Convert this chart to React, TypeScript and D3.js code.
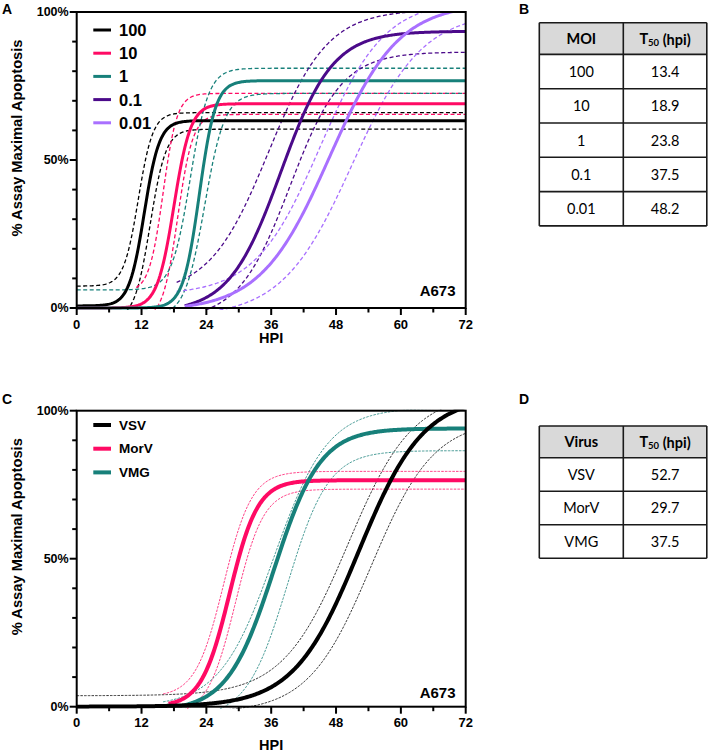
import React from "react";
import * as d3 from "d3";

// ---------- Panel A data (MOI series) ----------
const moiLabels = ["100", "10", "1", "0.1", "0.01"];
const moiColors = ["#000000", "#ff0a64", "#17807a", "#4b0a8a", "#a970ff"];
const moiT50 = [13.4, 18.9, 23.8, 37.5, 48.2];
// fitted sigmoid parameters
const moiBottom = [0.7, 0, 0, -1.5, -1];
const moiTop = [63.3, 69, 76.8, 93.5, 103];
const moiMid = [12.5, 18.0, 22.7, 37.8, 46.8];
const moiSlope = [1.4, 1.55, 1.5, 4.8, 6.4];
const moiFrom = [0, 0, 0, 20, 20];
// confidence band curves: [bottom, top, mid, slope, fromX]
const moiUpper = [
  [7.4, 66, 11.4, 1.35, 0],
  [5.5, 72.5, 16, 1.3, 11],
  [6.1, 81, 21, 1.7, 0],
  [4.5, 100.8, 35.5, 5.5, 18.5],
  [4.4, 104, 45, 6, 18.5],
];
const moiLower = [
  [-4, 60.4, 13.6, 1.45, 0],
  [-4, 65.4, 18.7, 1.4, 0],
  [-3, 72.5, 23.7, 1.85, 0],
  [-4, 86.5, 39.5, 4.8, 0],
  [-3, 100, 51, 6.5, 0],
];

// ---------- Panel C data (virus series) ----------
const virusLabels = ["VSV", "MorV", "VMG"];
const virusColors = ["#000000", "#ff0a64", "#17807a"];
const virusT50 = [52.7, 29.7, 37.5];
const virusBottom = [0, 0, -1.5];
const virusTop = [105, 76.5, 94];
const virusMid = [52.2, 28.3, 36.5];
const virusSlope = [6, 2.6, 4.3];
const virusFrom = [0, 17, 20];
const virusUpper = [
  [3.7, 106, 50.2, 6, 0],
  [3.3, 79.5, 27.2, 2.6, 16],
  [0, 101, 36.5, 5, 16],
];
const virusLower = [
  [-2, 97, 54.5, 5.8, 0],
  [-3, 73.5, 29.4, 2.6, 0],
  [-4, 86.5, 39, 3.8, 0],
];
const virusDrawOrder = [1, 2, 0];

// ---------- Tables ----------
const tableBHeader = ["MOI", "T50 (hpi)"];
const tableBRows = moiLabels.map((m, i) => [m, moiT50[i].toFixed(1)]);
const tableDHeader = ["Virus", "T50 (hpi)"];
const tableDRows = virusLabels.map((v, i) => [v, virusT50[i].toFixed(1)]);

const xTicksMajor = [0, 12, 24, 36, 48, 60, 72];
const xTicksMinor = [6, 18, 30, 42, 54, 66];
const yTicksMajor = [0, 50, 100];
const yTicksMinor = [10, 20, 30, 40, 60, 70, 80, 90];

const FONT = "'Liberation Sans', Arial, Helvetica, sans-serif";
const TFONT = "Lato, 'Open Sans', sans-serif";

const boltz = (b: number, t: number, x50: number, s: number) => (x: number) =>
  b + (t - b) / (1 + Math.exp((x50 - x) / s));

type Curve = { color: string; fn: (x: number) => number; from: number; width: number; dash?: string };

function Plot({
  id,
  top,
  curves,
  legend,
  legendFont,
  legendStep,
  legendWidth,
  legendTop,
  letter,
  letterY,
  hpiY,
  cellY,
}: {
  id: string;
  top: number;
  curves: Curve[];
  legend: { label: string; color: string }[];
  legendFont: number;
  legendStep: number;
  legendWidth: number;
  legendTop: number;
  letter: string;
  letterY: number;
  hpiY: number;
  cellY: number;
}) {
  const left = 76.7;
  const right = 465.7;
  const bottom = top + 296;
  const x = d3.scaleLinear().domain([0, 72]).range([left, right]);
  const y = d3.scaleLinear().domain([0, 100]).range([bottom, top]);
  const line = d3
    .line<number>()
    .x((d) => x(d))
    .curve(d3.curveLinear);
  return (
    <g>
      <defs>
        <clipPath id={"clip" + id}>
          <rect x={left} y={top - 1} width={right - left} height={bottom - top + 3} />
        </clipPath>
      </defs>
      <text x={2} y={letterY} fontFamily={FONT} fontWeight="bold" fontSize={14}>
        {letter}
      </text>
      <g clipPath={`url(#clip${id})`}>
        {curves.map((c, i) => {
          const xs = d3.range(c.from, 72.0001, 0.2);
          const path = line.y((d) => y(c.fn(d)))(xs) || "";
          return (
            <path
              key={i}
              d={path}
              fill="none"
              stroke={c.color}
              strokeWidth={c.width}
              strokeDasharray={c.dash}
            />
          );
        })}
      </g>
      <rect x={left} y={top} width={right - left} height={bottom - top} fill="none" stroke="#000" strokeWidth={2} />
      {xTicksMajor.map((t) => (
        <g key={"xm" + t}>
          <line x1={x(t)} x2={x(t)} y1={bottom} y2={bottom + 7} stroke="#000" strokeWidth={2} />
          <text
            x={x(t)}
            y={bottom + 16}
            textAnchor="middle"
            dominantBaseline="central"
            fontFamily={FONT}
            fontWeight="bold"
            fontSize={13}
          >
            {t}
          </text>
        </g>
      ))}
      {xTicksMinor.map((t) => (
        <line key={"xn" + t} x1={x(t)} x2={x(t)} y1={bottom} y2={bottom + 4.5} stroke="#000" strokeWidth={2} />
      ))}
      {yTicksMajor.map((t) => (
        <g key={"ym" + t}>
          <line x1={left - 7} x2={left} y1={y(t)} y2={y(t)} stroke="#000" strokeWidth={2} />
          <text
            x={left - 8}
            y={y(t)}
            textAnchor="end"
            dominantBaseline="central"
            fontFamily={FONT}
            fontWeight="bold"
            fontSize={12.5}
          >
            {t + "%"}
          </text>
        </g>
      ))}
      {yTicksMinor.map((t) => (
        <line key={"yn" + t} x1={left - 4.5} x2={left} y1={y(t)} y2={y(t)} stroke="#000" strokeWidth={2} />
      ))}
      <text
        x={(left + right) / 2}
        y={hpiY}
        textAnchor="middle"
        dominantBaseline="central"
        fontFamily={FONT}
        fontWeight="bold"
        fontSize={14.5}
      >
        HPI
      </text>
      <text
        transform={`translate(16.7,${top + 126}) rotate(-90)`}
        textAnchor="middle"
        dominantBaseline="central"
        fontFamily={FONT}
        fontWeight="bold"
        fontSize={14.5}
        textLength={197}
        lengthAdjust="spacingAndGlyphs"
      >
        % Assay Maximal Apoptosis
      </text>
      <text x={455.5} y={cellY} textAnchor="end" fontFamily={FONT} fontWeight="bold" fontSize={15}>
        A673
      </text>
      {legend.map((l, i) => (
        <g key={"lg" + i}>
          <line
            x1={93.3}
            x2={111}
            y1={legendTop + i * legendStep}
            y2={legendTop + i * legendStep}
            stroke={l.color}
            strokeWidth={legendWidth}
          />
          <text
            x={119}
            y={legendTop + i * legendStep}
            dominantBaseline="central"
            fontFamily={FONT}
            fontWeight="bold"
            fontSize={legendFont}
          >
            {l.label}
          </text>
        </g>
      ))}
    </g>
  );
}

function Table({
  top,
  header,
  rows,
  letter,
  letterY,
  rowH,
}: {
  top: number;
  header: string[];
  rows: string[][];
  letter: string;
  letterY: number;
  rowH: number;
}) {
  const x0 = 539.3;
  const x1 = 623.3;
  const x2 = 706.8;
  const headH = 31.7;
  const total = headH + rows.length * rowH;
  const cx = [(x0 + x1) / 2, (x1 + x2) / 2];
  const renderHead = (h: string, i: number) => {
    if (h.startsWith("T50")) {
      return (
        <text
          key={i}
          x={cx[i]}
          y={top + headH / 2}
          textAnchor="middle"
          dominantBaseline="central"
          fontFamily={TFONT}
          fontWeight="bold"
          fontSize={14.5}
        >
          T
          <tspan fontSize={9.5} dy={3.5}>
            50
          </tspan>
          <tspan dy={-3.5}> (hpi)</tspan>
        </text>
      );
    }
    return (
      <text
        key={i}
        x={cx[i]}
        y={top + headH / 2}
        textAnchor="middle"
        dominantBaseline="central"
        fontFamily={TFONT}
        fontWeight="bold"
        fontSize={14.5}
      >
        {h}
      </text>
    );
  };
  return (
    <g>
      <text x={519} y={letterY} fontFamily={FONT} fontWeight="bold" fontSize={14}>
        {letter}
      </text>
      <rect x={x0} y={top} width={x2 - x0} height={headH} fill="#d9d9d9" />
      {header.map(renderHead)}
      {rows.map((r, ri) =>
        r.map((c, ci) => (
          <text
            key={ri + "-" + ci}
            x={cx[ci]}
            y={top + headH + ri * rowH + rowH / 2}
            textAnchor="middle"
            dominantBaseline="central"
            fontFamily={TFONT}
            fontSize={14.5}
          >
            {c}
          </text>
        ))
      )}
      {[0, ...rows.map((_, i) => headH + i * rowH), total].map((yy, i) => (
        <line key={"h" + i} x1={x0} x2={x2} y1={top + yy} y2={top + yy} stroke="#1a1a1a" strokeWidth={1.6} />
      ))}
      {[x0, x1, x2].map((xx, i) => (
        <line key={"v" + i} x1={xx} x2={xx} y1={top} y2={top + total} stroke="#1a1a1a" strokeWidth={1.6} />
      ))}
    </g>
  );
}

export default function App() {
  const curvesA: Curve[] = [];
  moiLabels.forEach((_, i) => {
    const u = moiUpper[i];
    const l = moiLower[i];
    curvesA.push({ color: moiColors[i], fn: boltz(u[0], u[1], u[2], u[3]), from: u[4], width: 1.3, dash: "4 2.5" });
    curvesA.push({ color: moiColors[i], fn: boltz(l[0], l[1], l[2], l[3]), from: l[4], width: 1.3, dash: "4 2.5" });
  });
  moiLabels.forEach((_, i) => {
    curvesA.push({
      color: moiColors[i],
      fn: boltz(moiBottom[i], moiTop[i], moiMid[i], moiSlope[i]),
      from: moiFrom[i],
      width: 3,
    });
  });

  const curvesC: Curve[] = [];
  virusLabels.forEach((_, i) => {
    const u = virusUpper[i];
    const l = virusLower[i];
    curvesC.push({ color: virusColors[i], fn: boltz(u[0], u[1], u[2], u[3]), from: u[4], width: 0.8, dash: "2.5 1.2" });
    curvesC.push({ color: virusColors[i], fn: boltz(l[0], l[1], l[2], l[3]), from: l[4], width: 0.8, dash: "2.5 1.2" });
  });
  virusDrawOrder.forEach((i) => {
    curvesC.push({
      color: virusColors[i],
      fn: boltz(virusBottom[i], virusTop[i], virusMid[i], virusSlope[i]),
      from: virusFrom[i],
      width: 4,
    });
  });

  return (
    <svg width={708} height={753} style={{ position: "absolute", left: 0, top: 0, background: "#fff" }}>
      <rect x={0} y={0} width={708} height={753} fill="#fff" />
      <Plot
        id="A"
        top={12}
        curves={curvesA}
        legend={moiLabels.map((l, i) => ({ label: l, color: moiColors[i] }))}
        legendFont={16.5}
        legendStep={23.2}
        legendWidth={3}
        legendTop={30}
        letter="A"
        letterY={14}
        hpiY={338}
        cellY={296}
      />
      <Plot
        id="C"
        top={410.7}
        curves={curvesC}
        legend={virusLabels.map((l, i) => ({ label: l, color: virusColors[i] }))}
        legendFont={13.5}
        legendStep={23.7}
        legendWidth={4}
        legendTop={425}
        letter="C"
        letterY={404}
        hpiY={745}
        cellY={698}
      />
      <Table top={22.7} header={tableBHeader} rows={tableBRows} letter="B" letterY={14} rowH={34.3} />
      <Table top={426} header={tableDHeader} rows={tableDRows} letter="D" letterY={404} rowH={33.5} />
    </svg>
  );
}
